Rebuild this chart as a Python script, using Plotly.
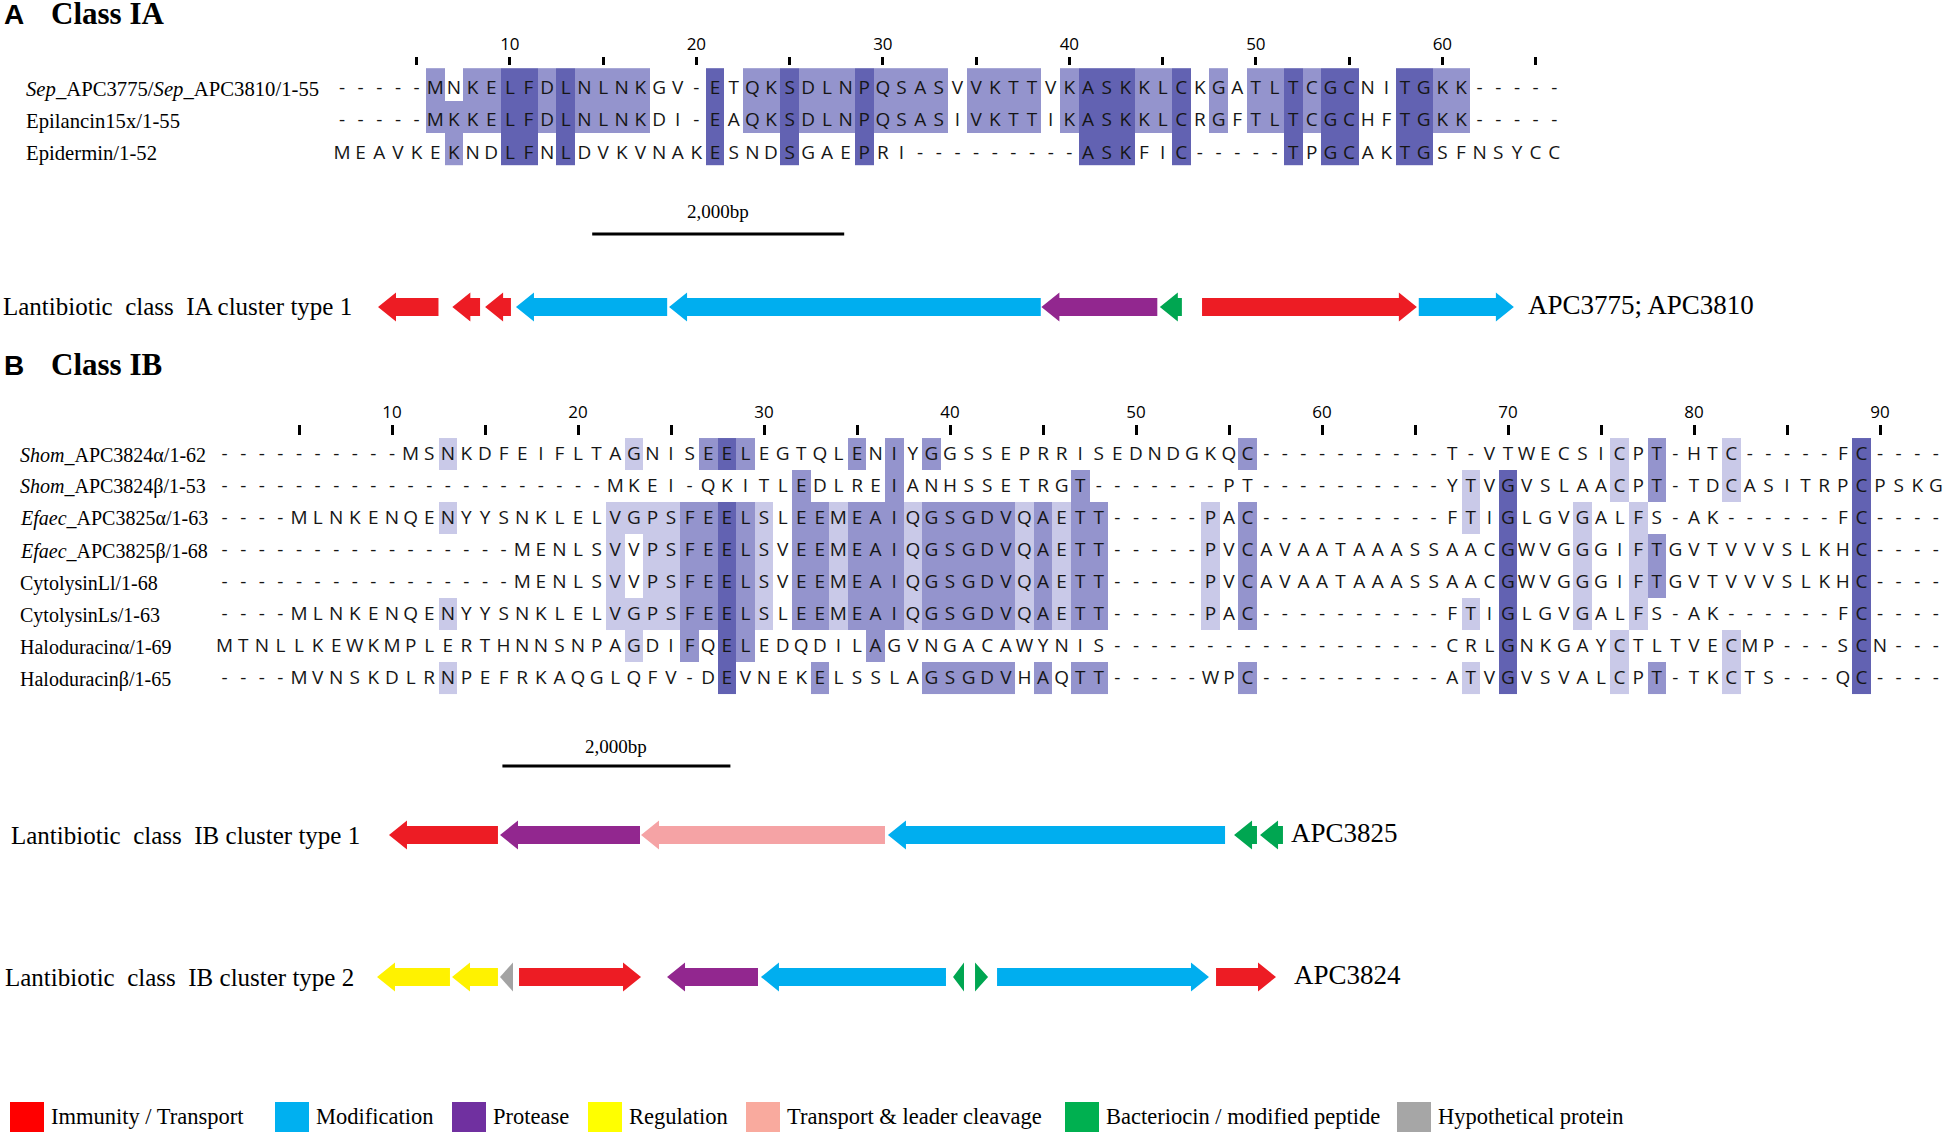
import plotly.graph_objects as go

W, H = 1950, 1132

# ---------------- data ----------------
ia_names = ["<i>Sep</i>_APC3775/<i>Sep</i>_APC3810/1-55", "Epilancin15x/1-55", "Epidermin/1-52"]
ia_seqs = [
    "-----MNKELFDLNLNKGV-ETQKSDLNPQSASVVKTTVKASKKLCKGATLTCGCNITGKK-----",
    "-----MKKELFDLNLNKDI-EAQKSDLNPQSASIVKTTIKASKKLCRGFTLTCGCHFTGKK-----",
    "MEAVKEKNDLFNLDVKVNAKESNDSGAEPRI---------ASKFIC-----TPGCAKTGSFNSYCC",
]

ib_names = ["<i>Shom</i>_APC3824α/1-62", "<i>Shom</i>_APC3824β/1-53",
            "<i>Efaec</i>_APC3825α/1-63", "<i>Efaec</i>_APC3825β/1-68",
            "CytolysinLl/1-68", "CytolysinLs/1-63", "Haloduracinα/1-69", "Haloduracinβ/1-65"]
ib_seqs = [
    "----------MSNKDFEIFLTAGNISEELEGTQLENIYGGSSEPRRISEDNDGKQC----------T-VTWECSICPT-HTC-----FC----",
    "---------------------MKEI-QKITLEDLREIANHSSETRGT-------PT----------YTVGVSLAACPT-TDCASITRPCPSKG",
    "----MLNKENQENYYSNKLELVGPSFEELSLEEMEAIQGSGDVQAETT-----PAC----------FTIGLGVGALFS-AK------FC----",
    "----------------MENLSVVPSFEELSVEEMEAIQGSGDVQAETT-----PVCAVAATAAASSAACGWVGGGIFTGVTVVVSLKHC----",
    "----------------MENLSVVPSFEELSVEEMEAIQGSGDVQAETT-----PVCAVAATAAASSAACGWVGGGIFTGVTVVVSLKHC----",
    "----MLNKENQENYYSNKLELVGPSFEELSLEEMEAIQGSGDVQAETT-----PAC----------FTIGLGVGALFS-AK------FC----",
    "MTNLLKEWKMPLERTHNNSNPAGDIFQELEDQDILAGVNGACAWYNIS------------------CRLGNKGAYCTLTVECMP---SCN---",
    "----MVNSKDLRNPEFRKAQGLQFV-DEVNEKELSSLAGSGDVHAQTT-----WPC----------ATVGVSVALCPT-TKCTS---QC----",
]

# gene clusters (bp from cluster start, strand, function)
a1_start = [0, 590, 850, 1095, 2310, 5265, 6205, 6540, 8260]
a1_end = [480, 810, 1055, 2295, 5260, 6185, 6380, 8245, 9015]
a1_strand = [-1, -1, -1, -1, -1, -1, -1, 1, 1]
a1_func = ["imm", "imm", "imm", "mod", "mod", "prot", "bact", "imm", "mod"]

b1_start = [105, 1079, 2316, 4482, 7518, 7746]
b1_end = [1061, 2307, 4456, 7439, 7719, 7947]
b1_strand = [-1, -1, -1, -1, -1, -1]
b1_func = ["imm", "prot", "tlc", "mod", "bact", "bact"]

b2_start = [0, 658, 1079, 1246, 2544, 3368, 5053, 5246, 5439, 7360]
b2_end = [640, 1061, 1193, 2316, 3342, 4991, 5149, 5360, 7298, 7886]
b2_strand = [-1, -1, -1, 1, -1, -1, -1, 1, 1, 1]
b2_func = ["reg", "reg", "hyp", "imm", "prot", "mod", "bact", "bact", "mod", "imm"]

func_keys = ["imm", "mod", "prot", "reg", "tlc", "bact", "hyp"]
func_labels = ["Immunity / Transport", "Modification", "Protease", "Regulation",
               "Transport & leader cleavage", "Bacteriocin / modified peptide", "Hypothetical protein"]

# ---------------- styles ----------------
arrow_col = {"imm": "#ED1C24", "mod": "#00AEEF", "prot": "#92278F", "reg": "#FFF200",
             "tlc": "#F5A3A5", "bact": "#00A651", "hyp": "#A3A3A3"}
legend_col = ["#FF0000", "#00B0F0", "#7030A0", "#FFFF00", "#F9AA9E", "#00B050", "#A6A6A6"]
legend_x = [10, 275, 452, 588, 746, 1065, 1397]
shade_cols = ["#C9C9E8", "#9494CD", "#6262B2"]
SERIF = "Liberation Serif"
SANS = "Open Sans"


def px_x(p):
    return p / W


def px_y(p):
    return 1 - p / H


def lin_range(val, at_px, units_per_px, total):
    v0 = val - at_px * units_per_px
    return [v0, v0 + total * units_per_px]


def shade_levels(seqs):
    # Jalview-style percentage identity: >80, >60, >40 % of all rows
    n = len(seqs)
    z = [[None] * len(seqs[0]) for _ in seqs]
    for c in range(len(seqs[0])):
        col = [s[c] for s in seqs]
        counts = {}
        for ch in col:
            if ch != "-":
                counts[ch] = counts.get(ch, 0) + 1
        if not counts:
            continue
        top = max(counts.values())
        winners = [k for k, v in counts.items() if v == top]
        pct = 100.0 * top / n
        level = 3 if pct > 80 else 2 if pct > 60 else 1 if pct > 40 else 0
        if level == 0 or len(winners) > 1:
            continue
        for r, ch in enumerate(col):
            if ch == winners[0]:
                z[r][c] = level
    return z


fig = go.Figure()


def add_alignment(seqs, xa, ya, box_shift):
    ncol = len(seqs[0])
    fig.add_trace(go.Heatmap(
        z=shade_levels(seqs), x=list(range(1, ncol + 1)), y=[r + box_shift for r in range(len(seqs))],
        zmin=1, zmax=3, showscale=False, hoverinfo="skip",
        colorscale=[[0, shade_cols[0]], [0.333, shade_cols[0]], [0.333, shade_cols[1]],
                    [0.667, shade_cols[1]], [0.667, shade_cols[2]], [1, shade_cols[2]]],
        xaxis=xa, yaxis=ya))
    xs, ys, ts = [], [], []
    for r, s in enumerate(seqs):
        for c, ch in enumerate(s):
            xs.append(c + 1)
            ys.append(r)
            ts.append(ch)
    fig.add_trace(go.Scatter(x=xs, y=ys, text=ts, mode="text", textposition="middle center",
                             textfont=dict(family=SANS, size=19, color="#161616"),
                             hoverinfo="skip", xaxis=xa, yaxis=ya))


def arrow_poly(start, end, strand, yc, head_bp):
    h1, h2 = 9, 14.5
    L = min(head_bp, end - start)
    if strand < 0:
        tip, sh, tail = start, start + L, end
    else:
        tip, sh, tail = end, end - L, start
    xs = [tip, sh, sh, tail, tail, sh, sh, tip]
    ys = [yc, yc - h2, yc - h1, yc - h1, yc + h1, yc + h1, yc + h2, yc]
    return xs, ys


def add_cluster(starts, ends, strands, funcs, yc, xa, bp_per_px):
    for key in func_keys:
        xs, ys = [], []
        for s, e, st, f in zip(starts, ends, strands, funcs):
            if f != key:
                continue
            px_, py_ = arrow_poly(s, e, st, yc, 18 * bp_per_px)
            xs += px_ + [None]
            ys += py_ + [None]
        if xs:
            fig.add_trace(go.Scatter(x=xs, y=ys, mode="lines", fill="toself",
                                     fillcolor=arrow_col[key], line=dict(width=0),
                                     hoverinfo="skip", xaxis=xa, yaxis="y3"))


add_alignment(ia_seqs, "x", "y", -0.14)
add_alignment(ib_seqs, "x2", "y2", -0.03)

bpA = 2000 / 252
bpB = 2000 / 228
add_cluster(a1_start, a1_end, a1_strand, a1_func, 307, "x3", bpA)
add_cluster(b1_start, b1_end, b1_strand, b1_func, 835, "x4", bpB)
add_cluster(b2_start, b2_end, b2_strand, b2_func, 977, "x4", bpB)

# panel titles, drawn on a pixel axis pair
fig.add_trace(go.Scatter(x=[4, 4], y=[17, 368], text=["<b>A</b>", "<b>B</b>"], mode="text",
                         textposition="middle right", cliponaxis=False, hoverinfo="skip",
                         textfont=dict(family="Liberation Sans", size=28, color="black"),
                         xaxis="x5", yaxis="y3"))
fig.add_trace(go.Scatter(x=[51, 51], y=[16, 367], text=["<b>Class IA</b>", "<b>Class IB</b>"],
                         mode="text", textposition="middle right", cliponaxis=False,
                         hoverinfo="skip", textfont=dict(family=SERIF, size=31, color="black"),
                         xaxis="x5", yaxis="y3"))

# scale bars
for xref, x0, ybar, ytxt in [("x3", 1700, 234, 211), ("x4", 1100, 766, 746)]:
    fig.add_shape(type="line", xref=xref, yref="y3", x0=x0, x1=x0 + 2000, y0=ybar, y1=ybar,
                  line=dict(color="black", width=3))
    fig.add_annotation(xref=xref, yref="y3", x=x0 + 1000, y=ytxt, text="2,000bp", showarrow=False,
                       font=dict(family=SERIF, size=19, color="black"))


def text(x, y, s, size, family=SERIF, anchor="left", color="black"):
    fig.add_annotation(xref="paper", yref="paper", x=px_x(x - 3), y=px_y(y), text=s, showarrow=False,
                       xanchor=anchor, yanchor="middle",
                       font=dict(family=family, size=size, color=color))


for i, nm in enumerate(ia_names):
    text(27, 89 + 32.5 * i, nm, 20.7)
for i, nm in enumerate(ib_names):
    text(21, 455 + 32 * i, nm, 20)

text(4, 307, "Lantibiotic  class  IA cluster type 1", 25)
text(1529, 305, "APC3775; APC3810", 27)
text(12, 835, "Lantibiotic  class  IB cluster type 1", 25)
text(1292, 833, "APC3825", 27)
text(6, 977, "Lantibiotic  class  IB cluster type 2", 25)
text(1295, 975, "APC3824", 27)

for lx, col, lab in zip(legend_x, legend_col, func_labels):
    fig.add_shape(type="rect", xref="paper", yref="paper", x0=px_x(lx), x1=px_x(lx + 34),
                  y0=px_y(1132), y1=px_y(1102), fillcolor=col, line=dict(width=0))
    text(lx + 42, 1116, lab, 22.5)


def col_axis(ncol, col1_px, colw, tick_px, tlen):
    return dict(range=lin_range(1, col1_px, 1 / colw, W), domain=[0, 1], anchor="free",
                position=px_y(tick_px), side="top", showgrid=False, zeroline=False, showline=False,
                ticks="outside", ticklen=tlen, tickwidth=3, tickcolor="black",
                tickvals=list(range(5, ncol + 1, 5)),
                ticktext=[str(v) if v % 10 == 0 else "" for v in range(5, ncol + 1, 5)],
                tickfont=dict(family=SANS, size=17, color="black"), ticklabelstandoff=0)


hidden = dict(visible=False, showgrid=False, zeroline=False, domain=[0, 1])
yIA = lin_range(0, 89, 1 / 32.5, H)
yIB = lin_range(0, 455, 1 / 32, H)

fig.update_layout(
    width=W, height=H, margin=dict(l=0, r=0, t=0, b=0),
    paper_bgcolor="white", plot_bgcolor="white", showlegend=False,
    xaxis=col_axis(len(ia_seqs[0]), 342, 18.65, 65, 8),
    xaxis2=dict(col_axis(len(ib_seqs[0]), 224.6, 18.6, 435, 10), overlaying="x"),
    xaxis3=dict(hidden, range=lin_range(0, 378, bpA, W), overlaying="x"),
    xaxis4=dict(hidden, range=lin_range(0, 377, bpB, W), overlaying="x"),
    xaxis5=dict(hidden, range=[0, W], overlaying="x"),
    yaxis=dict(hidden, range=[yIA[1], yIA[0]]),
    yaxis2=dict(hidden, range=[yIB[1], yIB[0]], overlaying="y"),
    yaxis3=dict(hidden, range=[H, 0], overlaying="y"),
)

fig.write_html("out.html", config={"displayModeBar": False},
               post_script="document.body.style.margin='0px';")
